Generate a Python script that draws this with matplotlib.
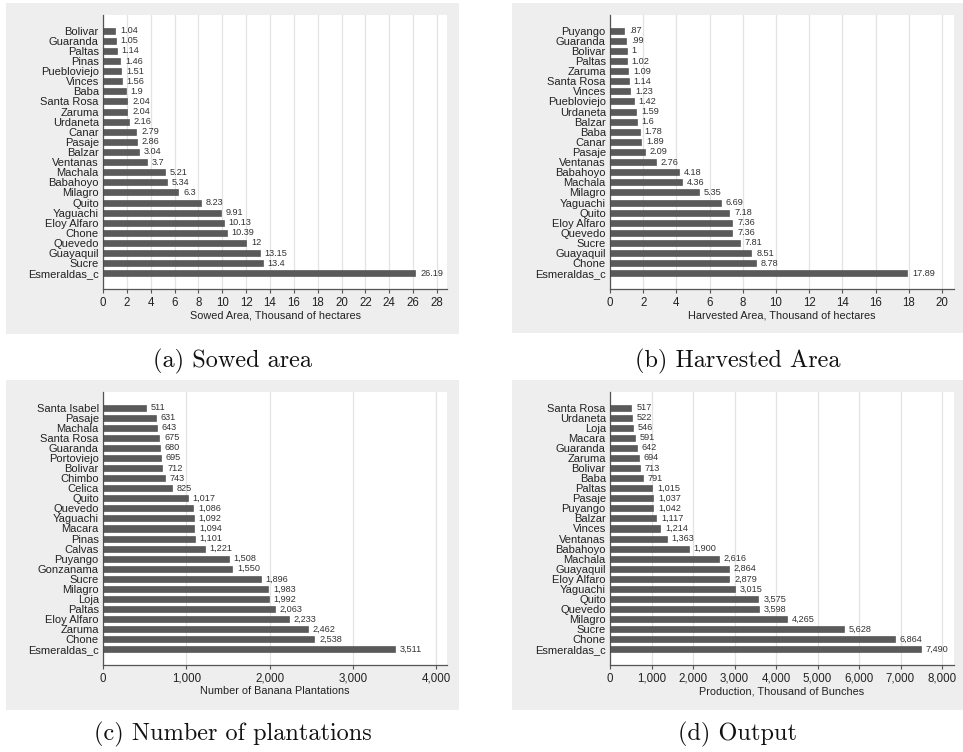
import matplotlib
matplotlib.use("Agg")
import matplotlib.pyplot as plt
from matplotlib.patches import Rectangle
from matplotlib.ticker import FuncFormatter
import numpy as np

# data
sowed_names = ["Bolivar", "Guaranda", "Paltas", "Pinas", "Puebloviejo", "Vinces", "Baba",
               "Santa Rosa", "Zaruma", "Urdaneta", "Canar", "Pasaje", "Balzar", "Ventanas",
               "Machala", "Babahoyo", "Milagro", "Quito", "Yaguachi", "Eloy Alfaro", "Chone",
               "Quevedo", "Guayaquil", "Sucre", "Esmeraldas_c"]
sowed_vals = [1.04, 1.05, 1.14, 1.46, 1.51, 1.56, 1.9, 2.04, 2.04, 2.16, 2.79, 2.86, 3.04, 3.7,
              5.21, 5.34, 6.3, 8.23, 9.91, 10.13, 10.39, 12, 13.15, 13.4, 26.19]

harv_names = ["Puyango", "Guaranda", "Bolivar", "Paltas", "Zaruma", "Santa Rosa", "Vinces",
              "Puebloviejo", "Urdaneta", "Balzar", "Baba", "Canar", "Pasaje", "Ventanas",
              "Babahoyo", "Machala", "Milagro", "Yaguachi", "Quito", "Eloy Alfaro", "Quevedo",
              "Sucre", "Guayaquil", "Chone", "Esmeraldas_c"]
harv_vals = [0.87, 0.99, 1, 1.02, 1.09, 1.14, 1.23, 1.42, 1.59, 1.6, 1.78, 1.89, 2.09, 2.76,
             4.18, 4.36, 5.35, 6.69, 7.18, 7.36, 7.36, 7.81, 8.51, 8.78, 17.89]

plant_names = ["Santa Isabel", "Pasaje", "Machala", "Santa Rosa", "Guaranda", "Portoviejo",
               "Bolivar", "Chimbo", "Celica", "Quito", "Quevedo", "Yaguachi", "Macara", "Pinas",
               "Calvas", "Puyango", "Gonzanama", "Sucre", "Milagro", "Loja", "Paltas",
               "Eloy Alfaro", "Zaruma", "Chone", "Esmeraldas_c"]
plant_vals = [511, 631, 643, 675, 680, 695, 712, 743, 825, 1017, 1086, 1092, 1094, 1101, 1221,
              1508, 1550, 1896, 1983, 1992, 2063, 2233, 2462, 2538, 3511]

out_names = ["Santa Rosa", "Urdaneta", "Loja", "Macara", "Guaranda", "Zaruma", "Bolivar", "Baba",
             "Paltas", "Pasaje", "Puyango", "Balzar", "Vinces", "Ventanas", "Babahoyo", "Machala",
             "Guayaquil", "Eloy Alfaro", "Yaguachi", "Quito", "Quevedo", "Milagro", "Sucre",
             "Chone", "Esmeraldas_c"]
out_vals = [517, 522, 546, 591, 642, 694, 713, 791, 1015, 1037, 1042, 1117, 1214, 1363, 1900,
            2616, 2864, 2879, 3015, 3575, 3598, 4265, 5628, 6864, 7490]

W, H = 963, 752
BG = "#eeeeee"
BAR = "#5a5a5a"
AXC = "#555555"


def stata_dec(v):
    s = f"{v:.2f}".rstrip("0").rstrip(".")
    if s.startswith("0."):
        s = s[1:]
    return s


def comma(v):
    return f"{v:,.0f}"


def px_box(x0, y0, x1, y1):
    # pixel box (top-left origin) -> figure fraction [l, b, w, h]
    return [x0 / W, 1 - y1 / H, (x1 - x0) / W, (y1 - y0) / H]


fig = plt.figure(figsize=(W / 100, H / 100), dpi=100)
plt.rcParams["font.family"] = ["Liberation Sans", "DejaVu Sans"]

panels = [
    (sowed_names, sowed_vals, stata_dec, 28.84, np.arange(0, 29, 2),
     "Sowed Area, Thousand of hectares", "(a) Sowed area",
     (6, 3, 459, 334), (103, 15, 447, 289), 361),
    (harv_names, harv_vals, stata_dec, 20.72, np.arange(0, 21, 2),
     "Harvested Area, Thousand of hectares", "(b) Harvested Area",
     (512, 3, 963, 333), (610, 15, 954, 289), 361),
    (plant_names, plant_vals, comma, 4132, np.arange(0, 4001, 1000),
     "Number of Banana Plantations", "(c) Number of plantations",
     (6, 380, 459, 710), (103, 392, 447, 665), 734),
    (out_names, out_vals, comma, 8289, np.arange(0, 8001, 1000),
     "Production, Thousand of Bunches", "(d) Output",
     (512, 380, 963, 710), (610, 392, 954, 665), 734),
]

for names, vals, fmt, xmax, ticks, xlabel, caption, gbox, abox, cap_y in panels:
    gx0, gy0, gx1, gy1 = gbox
    fig.patches.append(Rectangle((gx0 / W, 1 - gy1 / H), (gx1 - gx0) / W, (gy1 - gy0) / H,
                                 transform=fig.transFigure, facecolor=BG, edgecolor="none",
                                 zorder=-5))
    ax = fig.add_axes(px_box(*abox))
    ax.set_zorder(2)
    ax.set_facecolor("white")
    y = np.arange(len(names))
    ax.barh(y, vals, height=0.6, color=BAR, edgecolor="#444444", linewidth=0.4, zorder=3)
    for yi, v in zip(y, vals):
        ax.annotate(fmt(v), (v, yi), xytext=(3.5, 0), textcoords="offset points",
                    va="center", ha="left", fontsize=6.6, color="#333333")
    ax.set_ylim(len(names) - 1 + 1.55, -1.55)
    ax.set_xlim(0, xmax)
    ax.set_yticks(y)
    ax.set_yticklabels(names, fontsize=8, color="#222222")
    ax.set_xticks(ticks)
    ax.xaxis.set_major_formatter(FuncFormatter(lambda v, p, f=fmt: f"{v:,.0f}" if f is comma else f"{v:g}"))
    ax.tick_params(axis="y", length=0, pad=3)
    ax.tick_params(axis="x", length=3, width=0.8, color=AXC, labelsize=8.3,
                   labelcolor="#222222", pad=2.5)
    ax.grid(axis="x", color="#e3e3e3", linewidth=0.9, zorder=0)
    ax.set_axisbelow(True)
    for s in ["top", "right"]:
        ax.spines[s].set_visible(False)
    for s in ["left", "bottom"]:
        ax.spines[s].set_color(AXC)
        ax.spines[s].set_linewidth(0.9)
    ax.set_xlabel(xlabel, fontsize=7.8, color="#222222", labelpad=1)
    fig.text((gx0 + gx1) / 2 / W, 1 - cap_y / H, caption, ha="center", va="center",
             fontsize=17.5, family="cmr10", color="#111111")

fig.savefig("out.png", dpi=100, facecolor="white")
